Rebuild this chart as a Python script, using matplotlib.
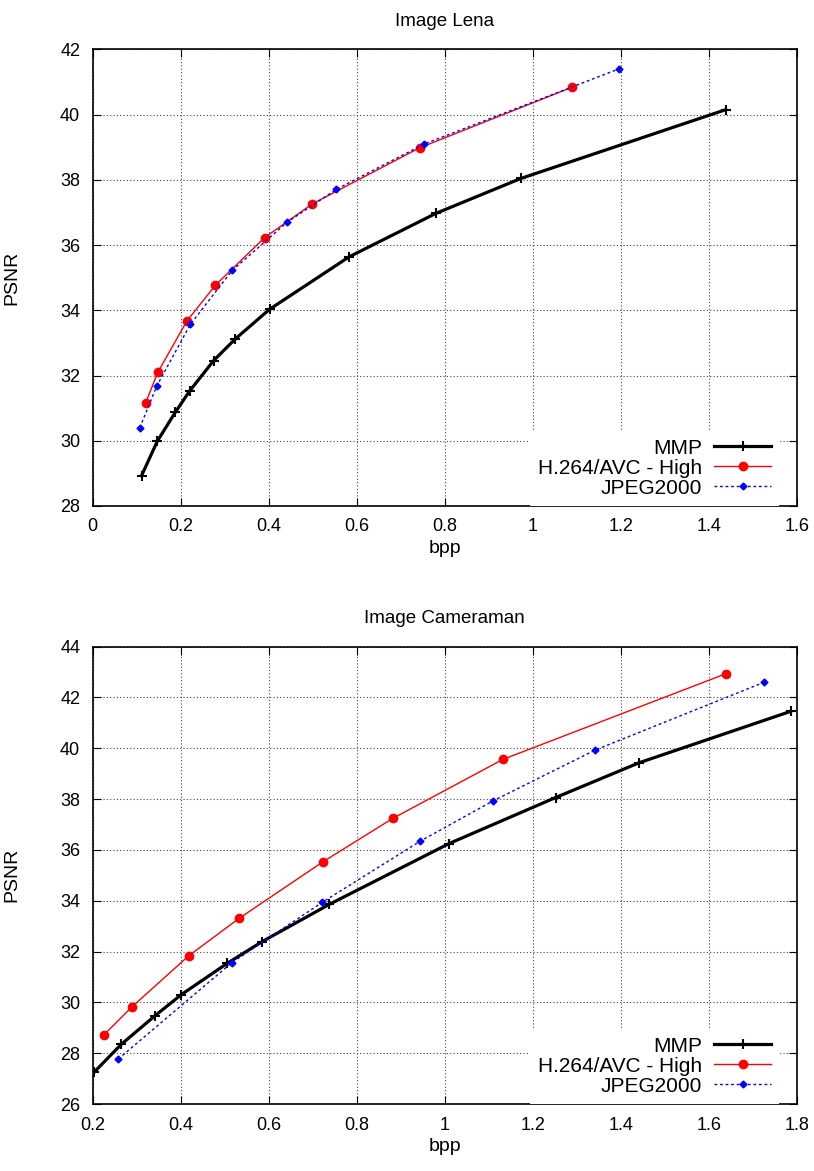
import matplotlib
matplotlib.use("Agg")
import matplotlib.pyplot as plt

plt.rcParams['font.family'] = ['Liberation Sans', 'DejaVu Sans']

# Lena
lena_mmp_x = [0.111, 0.147, 0.188, 0.220, 0.275, 0.324, 0.402, 0.583, 0.780, 0.973, 1.439]
lena_mmp_y = [28.93, 29.99, 30.88, 31.52, 32.46, 33.12, 34.03, 35.64, 36.97, 38.04, 40.15]
lena_h264_x = [0.120, 0.148, 0.214, 0.279, 0.391, 0.499, 0.743, 1.090]
lena_h264_y = [31.15, 32.10, 33.67, 34.77, 36.23, 37.26, 38.98, 40.84]
lena_jp2_x = [0.107, 0.146, 0.222, 0.317, 0.442, 0.554, 0.754, 1.196]
lena_jp2_y = [30.40, 31.69, 33.57, 35.22, 36.70, 37.71, 39.10, 41.40]

# Cameraman
cam_mmp_x = [0.203, 0.265, 0.342, 0.401, 0.506, 0.585, 0.738, 1.010, 1.252, 1.442, 1.786]
cam_mmp_y = [27.25, 28.35, 29.48, 30.30, 31.54, 32.39, 33.86, 36.25, 38.06, 39.43, 41.45]
cam_h264_x = [0.226, 0.289, 0.418, 0.533, 0.724, 0.882, 1.132, 1.640]
cam_h264_y = [28.73, 29.82, 31.83, 33.31, 35.54, 37.24, 39.56, 42.94]
cam_jp2_x = [0.258, 0.516, 0.722, 0.944, 1.110, 1.342, 1.725]
cam_jp2_y = [27.77, 31.56, 33.94, 36.34, 37.93, 39.93, 42.59]

fig = plt.figure(figsize=(8.14, 11.71), dpi=100)
ax1 = fig.add_axes([0.1139, 0.5679, 0.8648, 0.3900])
ax2 = fig.add_axes([0.1139, 0.0572, 0.8648, 0.3906])


def draw(ax, title, mx, my, hx, hy, jx, jy, xlim, ylim, xticks, yticks):
    ax.plot(mx, my, color='black', lw=2.3, marker='+', ms=7, mew=1.5, label='MMP')
    ax.plot(hx, hy, color='red', lw=1.0, marker='o', ms=6, label='H.264/AVC - High')
    ax.plot(jx, jy, color='blue', lw=1.0, ls=(0, (2, 2)), marker='D', ms=3.5,
            label='JPEG2000')
    ax.set_xlim(*xlim)
    ax.set_ylim(*ylim)
    ax.set_xticks(xticks)
    ax.set_yticks(yticks)
    ax.set_xticklabels([('%g' % t) for t in xticks])
    ax.grid(True, color='#444444', ls=(0, (1, 2)), lw=0.8)
    ax.tick_params(direction='in', top=True, right=True, labelsize=13, length=6, pad=9)
    ax.set_title(title, fontsize=13.5, pad=17)
    ax.set_xlabel('bpp', fontsize=14, labelpad=3)
    ax.set_ylabel('PSNR', fontsize=14)
    ax.yaxis.set_label_coords(-0.103, 0.5)
    for s in ax.spines.values():
        s.set_linewidth(1.2)
    leg = ax.legend(loc='lower right', bbox_to_anchor=(0.975, 0.0),
                    markerfirst=False, fontsize=15,
                    frameon=True, fancybox=False, framealpha=1, edgecolor='none',
                    handlelength=2.7, borderaxespad=0.0, labelspacing=0.05,
                    handletextpad=0.6, borderpad=0.4)
    for t in leg.get_texts():
        t.set_ha('right')
    leg.set_zorder(5)


draw(ax1, 'Image Lena', lena_mmp_x, lena_mmp_y, lena_h264_x, lena_h264_y,
     lena_jp2_x, lena_jp2_y, (0, 1.6), (28, 42),
     [0, 0.2, 0.4, 0.6, 0.8, 1, 1.2, 1.4, 1.6], list(range(28, 43, 2)))
draw(ax2, 'Image Cameraman', cam_mmp_x, cam_mmp_y, cam_h264_x, cam_h264_y,
     cam_jp2_x, cam_jp2_y, (0.2, 1.8), (26, 44),
     [0.2, 0.4, 0.6, 0.8, 1, 1.2, 1.4, 1.6, 1.8], list(range(26, 45, 2)))

fig.savefig('out.png', dpi=100)
